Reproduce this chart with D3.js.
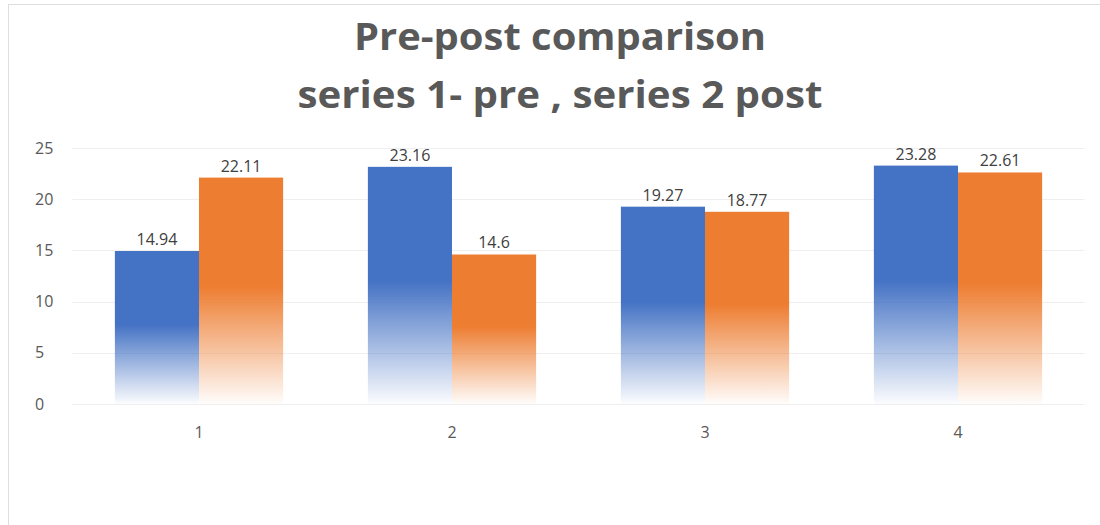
<!DOCTYPE html>
<html><head><meta charset="utf-8">
<script src="https://cdn.jsdelivr.net/npm/d3@7"></script>
<style>body{margin:0;background:#fff;}svg{display:block;font-family:"Open Sans","Noto Sans",sans-serif;}</style>
</head><body>
<svg id="c" width="1100" height="525"></svg>
<script>
const categories = ["1", "2", "3", "4"];
const seriesNames = ["Series 1", "Series 2"];
const series1 = [14.94, 23.16, 19.27, 23.28];
const series2 = [22.11, 14.6, 18.77, 22.61];
const yTicks = [0, 5, 10, 15, 20, 25];
const titleLines = ["Pre-post comparison", "series 1- pre , series 2 post"];
const colors = ["#4472C4", "#ED7D31"];

(function () {
const svg = d3.select("#c");
svg.append("rect").attr("x", 8.5).attr("y", 4.5).attr("width", 1110).attr("height", 540)
  .attr("fill", "#fff").attr("stroke", "#dedede");

const defs = svg.append("defs");
colors.forEach((c, i) => {
  const g = defs.append("linearGradient").attr("id", "g" + i)
    .attr("x1", 0).attr("y1", 0).attr("x2", 0).attr("y2", 1);
  g.append("stop").attr("offset", "0%").attr("stop-color", c).attr("stop-opacity", 1);
  g.append("stop").attr("offset", "48%").attr("stop-color", c).attr("stop-opacity", 1);
  g.append("stop").attr("offset", "100%").attr("stop-color", c).attr("stop-opacity", 0.02);
});

const pl = 72.5, pr = 1084.5, pt = 148, pb = 404;
const x = d3.scaleBand().domain(categories).range([pl, pr]).paddingInner(0.335).paddingOuter(0.335 / 2);
const x1 = d3.scaleBand().domain(seriesNames).range([0, x.bandwidth()]);
const y = d3.scaleLinear().domain([0, 25]).range([pb, pt]);

svg.append("g").selectAll("line").data(yTicks).join("line")
  .attr("x1", pl).attr("x2", pr)
  .attr("y1", d => Math.round(y(d)) + 0.5).attr("y2", d => Math.round(y(d)) + 0.5)
  .attr("stroke", "#efefef").attr("stroke-width", 1);

svg.append("g").selectAll("text").data(yTicks).join("text")
  .attr("x", 35).attr("y", d => y(d)).attr("dy", "0.35em")
  .attr("font-size", 16).attr("fill", "#595959").text(d => d);

svg.append("g").selectAll("text").data(categories).join("text")
  .attr("x", d => x(d) + x.bandwidth() / 2).attr("y", 438)
  .attr("text-anchor", "middle").attr("font-size", 16).attr("fill", "#595959").text(d => d);

const data = categories.map((c, i) => ({ c, vals: [series1[i], series2[i]] }));
const grp = svg.append("g").selectAll("g").data(data).join("g")
  .attr("transform", d => `translate(${x(d.c)},0)`);
grp.selectAll("rect").data(d => d.vals.map((v, i) => ({ v, s: seriesNames[i], i }))).join("rect")
  .attr("x", d => x1(d.s)).attr("width", x1.bandwidth())
  .attr("y", d => y(d.v)).attr("height", d => y(0) - y(d.v))
  .attr("fill", d => `url(#g${d.i})`);
grp.selectAll("text").data(d => d.vals.map((v, i) => ({ v, s: seriesNames[i], i }))).join("text")
  .attr("x", d => x1(d.s) + x1.bandwidth() / 2).attr("y", d => y(d.v) - 6)
  .attr("text-anchor", "middle").attr("font-size", 16).attr("fill", "#404040").text(d => d.v);

const tw = [412, 525];
svg.append("g").selectAll("text").data(titleLines).join("text")
  .attr("x", 560).attr("y", (d, i) => 50 + i * 58)
  .attr("text-anchor", "middle").attr("font-size", 37).attr("font-weight", 700)
  .attr("fill", "#595959")
  .attr("textLength", (d, i) => tw[i]).attr("lengthAdjust", "spacingAndGlyphs")
  .text(d => d);
})();
</script>
</body></html>
